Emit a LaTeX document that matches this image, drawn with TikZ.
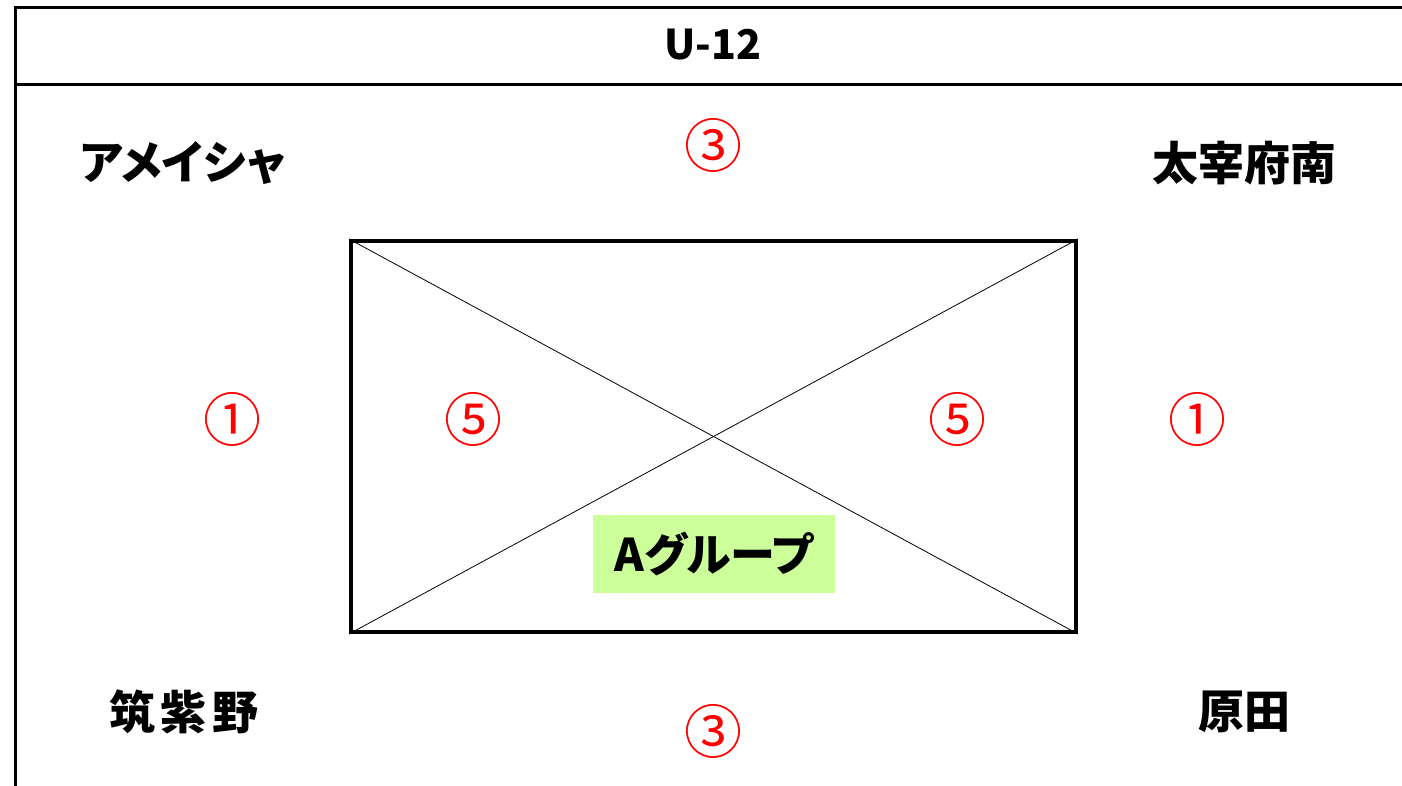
\documentclass[tikz,border=0pt]{standalone}
\usepackage{fontspec}
\usepackage{tikz}
\usetikzlibrary{positioning,calc}
\usepackage{xcolor}
\newfontfamily\jpfont[RawFeature=+palt]{Noto Sans CJK JP}
\definecolor{grpgreen}{HTML}{CCFF99}

\begin{document}
\begin{tikzpicture}[x=1pt,y=-1pt,
teamnode/.style={font=\jpfont\bfseries\fontsize{46}{50}\selectfont, inner sep=0pt},
scorenode/.style={font=\jpfont\fontsize{58}{60}\selectfont, text=red, inner sep=0pt},
boxnode/.style={draw=black, line width=4pt, minimum width=725pt, minimum height=391pt, inner sep=0pt},
]
\useasboundingbox (0,0) rectangle (1402,786);
\coordinate (TL) at (14,7.5);
\coordinate (TR) at (1402,7.5);
\coordinate (HL) at (14,85);
\coordinate (HR) at (1402,85);
\coordinate (BL) at (15,786);
% frame
\draw[line width=3pt] (TR) -- (TL);
\draw[line width=3pt] (15,6) -- (BL);
\draw[line width=3pt] (HL) -- (HR);
\node[font=\jpfont\bfseries\fontsize{41}{44}\selectfont, inner sep=0pt] (title) at (713,45) {U-12};

% group box
\node[boxnode] (grp) at (713.5,436.5) {};
\draw[line width=0.8pt] (grp.north west) -- (grp.south east);
\draw[line width=0.8pt] (grp.south west) -- (grp.north east);
\node[fill=grpgreen, minimum width=242pt, minimum height=78pt, inner sep=0pt,
      font=\jpfont\bfseries\fontsize{45}{48}\selectfont] (label) at (714,554) {Aグループ};

% teams
\node[teamnode] (ame) at (183,163) {アメイシャ};
\node[teamnode] (daz) at (1244,163) {太宰府南};
\node[teamnode] (chi) at (184,712) {筑\hspace{6pt}紫\hspace{6pt}野};
\node[teamnode] (har) at (1244,712) {原田};

% scores
\node[scorenode] (s3t) at (713,145) {③};
\node[scorenode] (s3b) at (713,731) {③};
\node[scorenode] (s1l) at (232,419) {①};
\node[scorenode] (s1r) at (1197,419) {①};
\node[scorenode] (s5l) at (473,419) {⑤};
\node[scorenode] (s5r) at (957,419) {⑤};
\end{tikzpicture}
\end{document}
